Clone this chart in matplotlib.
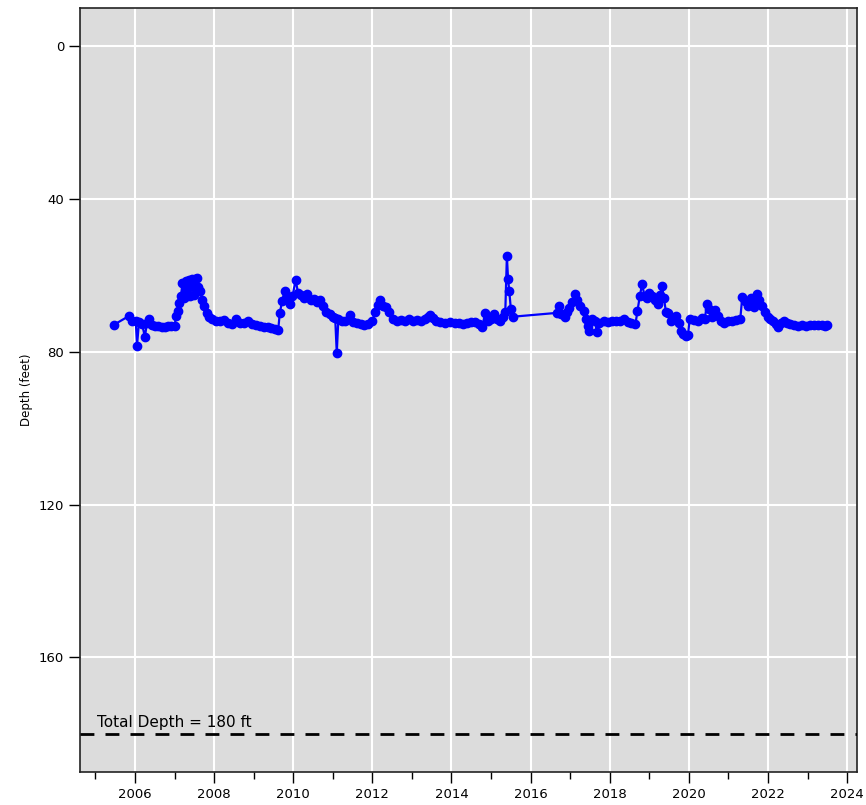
import matplotlib
matplotlib.use("Agg")
import matplotlib.pyplot as plt
from matplotlib.ticker import MultipleLocator, FixedLocator

years = [
    2005.47, 2005.85, 2005.92, 2006.02, 2006.05, 2006.10, 2006.18, 2006.25, 2006.30, 2006.35,
    2006.42, 2006.50, 2006.58, 2006.67, 2006.75, 2006.83, 2006.92, 2007.00, 2007.04, 2007.08,
    2007.12, 2007.16, 2007.20, 2007.24, 2007.28, 2007.32, 2007.36, 2007.40, 2007.44, 2007.48,
    2007.52, 2007.57, 2007.60, 2007.65, 2007.70, 2007.75, 2007.82, 2007.88, 2007.95, 2008.05,
    2008.15, 2008.25, 2008.35, 2008.45, 2008.55, 2008.65, 2008.75, 2008.85, 2008.95, 2009.05,
    2009.15, 2009.25, 2009.35, 2009.45, 2009.55, 2009.62, 2009.66, 2009.72, 2009.78, 2009.84,
    2009.92, 2009.98, 2010.06, 2010.12, 2010.20, 2010.28, 2010.36, 2010.44, 2010.52, 2010.60,
    2010.68, 2010.76, 2010.84, 2010.92, 2011.00, 2011.06, 2011.10, 2011.14, 2011.22, 2011.32,
    2011.43, 2011.50, 2011.60, 2011.70, 2011.80, 2011.90, 2012.00, 2012.07, 2012.14, 2012.20,
    2012.26, 2012.34, 2012.42, 2012.52, 2012.62, 2012.72, 2012.82, 2012.92, 2013.02, 2013.12,
    2013.22, 2013.32, 2013.40, 2013.46, 2013.54, 2013.62, 2013.72, 2013.84, 2013.96, 2014.08,
    2014.20, 2014.30, 2014.40, 2014.50, 2014.60, 2014.70, 2014.78, 2014.85, 2014.92, 2015.00,
    2015.08, 2015.14, 2015.22, 2015.30, 2015.36, 2015.40, 2015.43, 2015.46, 2015.50, 2015.56,
    2016.67, 2016.72, 2016.78, 2016.86, 2016.92, 2016.98, 2017.05, 2017.12, 2017.18, 2017.26,
    2017.34, 2017.40, 2017.45, 2017.48, 2017.54, 2017.62, 2017.68, 2017.74, 2017.85, 2017.95,
    2018.05, 2018.15, 2018.25, 2018.35, 2018.45, 2018.55, 2018.65, 2018.70, 2018.76, 2018.82,
    2018.88, 2018.94, 2019.00, 2019.08, 2019.15, 2019.22, 2019.28, 2019.32, 2019.37, 2019.42,
    2019.48, 2019.54, 2019.60, 2019.68, 2019.74, 2019.80, 2019.86, 2019.92, 2019.98, 2020.02,
    2020.12, 2020.22, 2020.32, 2020.40, 2020.46, 2020.52, 2020.58, 2020.66, 2020.74, 2020.82,
    2020.90, 2021.00, 2021.10, 2021.20, 2021.30, 2021.35, 2021.42, 2021.50, 2021.58, 2021.65,
    2021.72, 2021.78, 2021.85, 2021.92, 2022.00, 2022.05, 2022.12, 2022.20, 2022.25, 2022.32,
    2022.40, 2022.48, 2022.56, 2022.66, 2022.76, 2022.86, 2022.96, 2023.06, 2023.16, 2023.26,
    2023.36, 2023.45, 2023.50,
]

depths = [
    72.9, 70.6, 71.9, 72.0, 78.4, 72.3, 72.8, 76.1, 72.5, 71.4,
    73.0, 73.2, 73.3, 73.4, 73.4, 73.3, 73.2, 73.3, 70.5, 69.3,
    67.2, 65.5, 62.0, 65.8, 61.5, 65.5, 61.3, 65.5, 61.0, 65.0,
    61.0, 60.7, 63.0, 64.0, 66.5, 68.0, 69.8, 70.8, 71.4, 71.8,
    72.0, 71.6, 72.4, 72.6, 71.4, 72.5, 72.4, 72.0, 72.8, 73.0,
    73.3, 73.4, 73.6, 73.8, 74.1, 74.2, 69.8, 66.7, 64.0, 66.0,
    67.4, 65.5, 61.2, 64.5, 65.0, 66.0, 64.8, 66.4, 66.2, 67.0,
    66.5, 68.0, 69.5, 70.2, 70.8, 71.1, 80.3, 71.4, 71.8, 72.0,
    70.3, 72.3, 72.5, 72.8, 72.9, 72.6, 71.9, 69.5, 67.8, 66.5,
    68.0, 68.3, 69.5, 71.4, 71.9, 71.6, 71.9, 71.5, 72.0, 71.6,
    72.0, 71.5, 70.8, 70.4, 71.2, 71.8, 72.2, 72.4, 72.3, 72.4,
    72.5, 72.6, 72.5, 72.3, 72.2, 72.8, 73.4, 69.8, 72.0, 71.5,
    70.0, 71.5, 71.8, 70.8, 69.5, 54.9, 61.0, 64.0, 68.8, 70.8,
    69.8, 68.0, 70.0, 70.8, 69.5, 68.6, 67.0, 64.8, 66.5, 68.0,
    69.3, 71.5, 73.2, 74.5, 71.5, 72.0, 74.8, 72.4, 72.0, 72.2,
    71.9, 72.0, 71.9, 71.4, 72.2, 72.5, 72.7, 69.3, 65.4, 62.2,
    65.5, 66.0, 64.6, 65.5, 66.5, 67.4, 65.0, 62.7, 66.0, 69.5,
    69.8, 72.0, 71.5, 70.6, 72.5, 74.5, 75.3, 75.8, 75.5, 71.4,
    71.6, 71.8, 71.2, 71.4, 67.5, 68.8, 71.0, 69.0, 70.5, 71.8,
    72.4, 72.0, 71.9, 71.6, 71.4, 65.6, 66.8, 68.0, 65.9, 68.2,
    64.8, 66.5, 68.0, 69.5, 70.8, 71.4, 72.0, 72.8, 73.5, 72.5,
    71.8, 72.5, 72.7, 73.0, 73.2, 73.0, 73.2, 72.9, 73.1, 73.0,
    72.9, 73.2, 73.0,
]

total_depth = 180
total_depth_label = "Total Depth = 180 ft"
x_major_ticks = list(range(2006, 2025, 2))
y_major_ticks = [0, 40, 80, 120, 160]

fig = plt.figure(figsize=(8.66, 8.05), dpi=100)
ax = fig.add_axes([0.0924, 0.041, 0.8972, 0.949])
ax.set_facecolor("#dcdcdc")

ax.plot(years, depths, color="blue", marker="o", markersize=6, linewidth=1.6, zorder=3)
ax.axhline(total_depth, color="black", linestyle=(0, (5, 4)), linewidth=2, zorder=3)
ax.text(2005.05, total_depth - 1.0, total_depth_label, fontsize=11, ha="left", va="bottom", zorder=4)

ax.set_xlim(2004.61, 2024.25)
ax.set_ylim(190, -10)
ax.xaxis.set_major_locator(FixedLocator(x_major_ticks))
ax.xaxis.set_minor_locator(MultipleLocator(1))
ax.set_xticklabels([str(y) for y in x_major_ticks])
ax.yaxis.set_major_locator(FixedLocator(y_major_ticks))

ax.grid(True, which="major", color="white", linewidth=1.5, zorder=1)
ax.set_axisbelow(True)
ax.tick_params(axis="both", which="major", length=8, width=1, labelsize=9.5, direction="out")
ax.tick_params(axis="x", which="minor", length=5, width=1, direction="out")
for s in ax.spines.values():
    s.set_color("#222222")
    s.set_linewidth(1.2)

ax.set_ylabel("Depth (feet)", fontsize=8.5)

fig.savefig("out.png", dpi=100)
